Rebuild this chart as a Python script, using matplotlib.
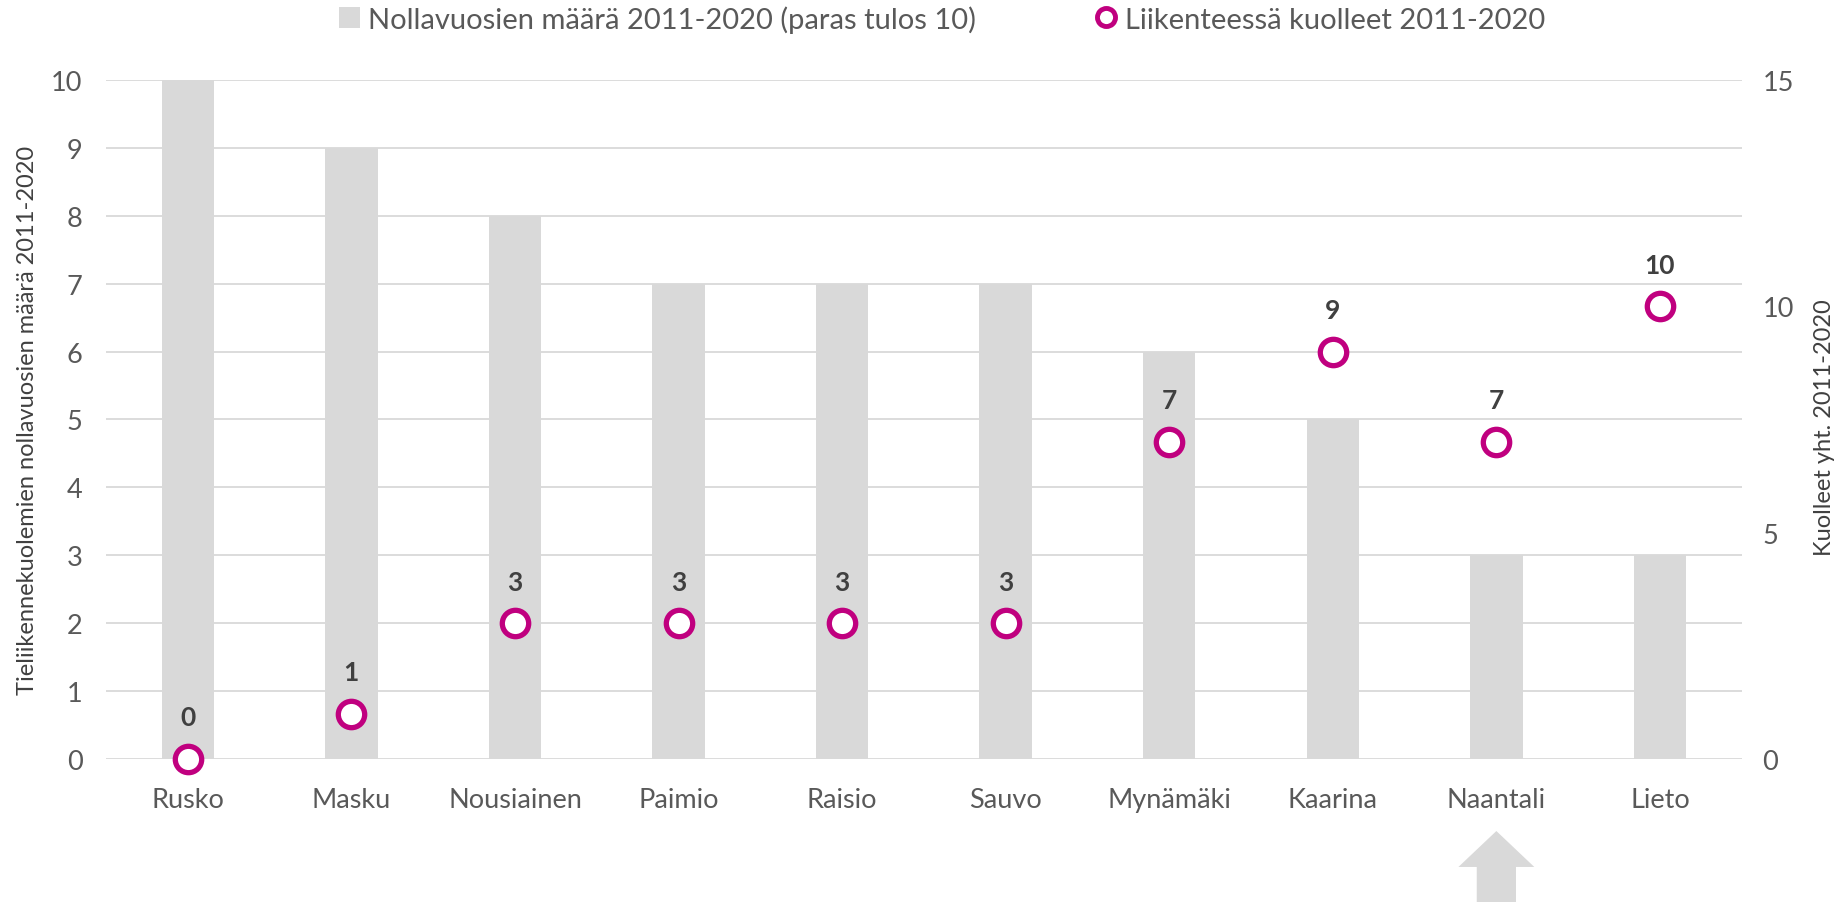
import matplotlib

matplotlib.use("Agg")
import matplotlib.pyplot as plt
from matplotlib.lines import Line2D
from matplotlib.patches import Patch, Polygon
from matplotlib.transforms import blended_transform_factory

municipalities = ["Rusko", "Masku", "Nousiainen", "Paimio", "Raisio",
                  "Sauvo", "Mynämäki", "Kaarina", "Naantali", "Lieto"]
zero_years = [10, 9, 8, 7, 7, 7, 6, 5, 3, 3]
deaths = [0, 1, 3, 3, 3, 3, 7, 9, 7, 10]
highlight = "Naantali"

BAR = "#d9d9d9"
PINK = "#c0007f"
TEXT = "#595959"
LABEL = "#404040"

plt.rcParams["font.family"] = ["Lato", "DejaVu Sans"]

fig = plt.figure(figsize=(18.47, 9.03), dpi=100)
ax = fig.add_axes((0.0574, 0.1584, 0.8856, 0.7519))
ax2 = ax.twinx()

x = list(range(len(municipalities)))
ax.bar(x, zero_years, width=0.32, color=BAR, zorder=2)
ax.set_xlim(-0.5, len(municipalities) - 0.5)
ax.set_ylim(0, 10)
ax.set_yticks(range(0, 11))
ax.grid(axis="y", color="#d9d9d9", linewidth=1.3, zorder=0)
ax.set_axisbelow(True)
ax.set_xticks(x)
ax.set_xticklabels(municipalities)
ax.tick_params(axis="x", length=0, pad=20, labelsize=19.5, colors=TEXT)
ax.tick_params(axis="y", length=0, pad=17, labelsize=19.5, colors=TEXT)
for side in ("top", "right", "left", "bottom"):
    ax.spines[side].set_visible(False)
    ax2.spines[side].set_visible(False)
ax.set_ylabel("Tieliikennekuolemien nollavuosien määrä 2011-2020",
              fontsize=17, color=LABEL, va="center")
ax.yaxis.set_label_coords(-0.048, 0.5)

ax2.plot(x, deaths, linestyle="none", marker="o", markersize=19,
         markerfacecolor="white", markeredgecolor=PINK, markeredgewidth=3.8,
         zorder=5, clip_on=False)
ax2.set_ylim(0, 15)
ax2.set_yticks([0, 5, 10, 15])
ax2.tick_params(axis="y", length=0, pad=15, labelsize=19.5, colors=TEXT)
ax2.set_ylabel("Kuolleet yht. 2011-2020", fontsize=17, color=LABEL,
               rotation=90, va="center")
ax2.yaxis.set_label_coords(1.0507, 0.49)
for xi, d in zip(x, deaths):
    ax2.annotate(str(d), (xi, d), xytext=(0, 30), textcoords="offset points",
                 ha="center", va="center", fontsize=19, fontweight="bold",
                 color=LABEL)
ax.set_zorder(1)
ax2.set_zorder(2)
ax2.patch.set_visible(False)

handles = [Patch(facecolor=BAR, edgecolor="none"),
           Line2D([], [], linestyle="none", marker="o", markersize=13,
                  markerfacecolor="white", markeredgecolor=PINK, markeredgewidth=3.5)]
fig.legend(handles, ["Nollavuosien määrä 2011-2020 (paras tulos 10)",
                     "Liikenteessä kuolleet 2011-2020"],
           loc="center", bbox_to_anchor=(0.5102, 0.978), ncol=2, frameon=False,
           fontsize=21, labelcolor=TEXT, handlelength=0.7, handletextpad=0.3,
           columnspacing=4.1)

# arrow under the highlighted municipality
xi = municipalities.index(highlight)
tr = blended_transform_factory(ax.transData, fig.transFigure)
head, shaft = 0.232, 0.12
arrow = Polygon([(xi, 0.0786), (xi + head, 0.0388), (xi + shaft, 0.0388),
                 (xi + shaft, 0.0), (xi - shaft, 0.0), (xi - shaft, 0.0388),
                 (xi - head, 0.0388)], closed=True, transform=tr,
                facecolor=BAR, edgecolor="none", clip_on=False)
fig.patches.append(arrow)

fig.savefig("out.png", dpi=100)
